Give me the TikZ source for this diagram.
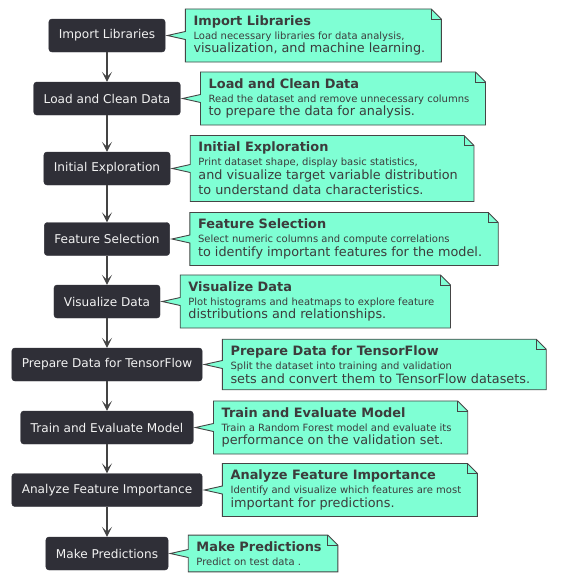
\documentclass[tikz,border=0pt]{standalone}
\usepackage{fontspec}
\setmainfont{DejaVu Sans}
\usepackage{xcolor}
\usepackage{tikz}
\usetikzlibrary{positioning,arrows.meta,backgrounds}

\definecolor{boxfill}{HTML}{2F2F37}
\definecolor{boxtext}{HTML}{F2F2F2}
\definecolor{notefill}{HTML}{7FFFD4}
\definecolor{noteborder}{HTML}{454545}
\definecolor{notetext}{HTML}{3C3C3C}
\definecolor{arrowgray}{HTML}{444444}

\newcommand\notetitle{\fontsize{12.9}{15}\bfseries\selectfont}
\newcommand\notesmall{\fontsize{10}{13.2}\mdseries\selectfont}
\newcommand\notelarge{\fontsize{12.8}{13.9}\mdseries\selectfont}
\def\boxx{107}
\def\notesep{20pt}

\begin{document}
\begin{tikzpicture}[x=1pt,y=-1pt,node distance=\notesep]
    \tikzstyle{activity}=[fill=boxfill,draw=boxfill,rounded corners=3pt,text=boxtext,
        minimum height=33pt,inner xsep=10pt,font=\fontsize{12.1}{14}\selectfont]
    \tikzstyle{note}=[align=left,text=notetext,inner xsep=8pt,inner ysep=6.2pt,font=\notelarge]
    \tikzstyle{noteline}=[fill=notefill,draw=noteborder,line width=0.9pt,line join=miter]
    \tikzstyle{flow}=[draw=arrowgray,line width=1.1pt,-{Stealth[length=10pt,width=10pt,inset=5pt]}]

    \useasboundingbox (0,0) rectangle (561,582);

    % Draw the activity boxes
    \foreach \name / \y / \txt in {1/35.5/Import Libraries,2/98.5/Load and Clean Data,
        3/168.5/Initial Exploration,4/239/Feature Selection,5/301.5/Visualize Data,
        6/364.5/Prepare Data for TensorFlow,7/427.5/Train and Evaluate Model,
        8/490/Analyze Feature Importance,9/553.5/Make Predictions}
        \node[activity] (A-\name) at (\boxx,\y) {\txt};

    % Connect each box with the next one
    \foreach \source / \dest in {1/2,2/3,3/4,4/5,5/6,6/7,7/8,8/9}
        \draw[flow] (A-\source.south) -- (A-\dest.north);

    % Notes to the right of the boxes
    \node[note,right=of A-1] (N-1) {\notetitle Import Libraries\\
        \notesmall Load necessary libraries for data analysis,\\
        \notelarge visualization, and machine learning.};
    \node[note,right=of A-2] (N-2) {\notetitle Load and Clean Data\\
        \notesmall Read the dataset and remove unnecessary columns\\
        \notelarge to prepare the data for analysis.};
    \node[note,right=of A-3] (N-3) {\notetitle Initial Exploration\\
        \notesmall Print dataset shape, display basic statistics,\\
        \notelarge and visualize target variable distribution\\[1.5pt]
        to understand data characteristics.};
    \node[note,right=of A-4] (N-4) {\notetitle Feature Selection\\
        \notesmall Select numeric columns and compute correlations\\
        \notelarge to identify important features for the model.};
    \node[note,right=of A-5] (N-5) {\notetitle Visualize Data\\
        \notesmall Plot histograms and heatmaps to explore feature\\
        \notelarge distributions and relationships.};
    \node[note,right=of A-6] (N-6) {\notetitle Prepare Data for TensorFlow\\
        \notesmall Split the dataset into training and validation\\
        \notelarge sets and convert them to TensorFlow datasets.};
    \node[note,right=of A-7] (N-7) {\notetitle Train and Evaluate Model\\
        \notesmall Train a Random Forest model and evaluate its\\
        \notelarge performance on the validation set.};
    \node[note,right=of A-8] (N-8) {\notetitle Analyze Feature Importance\\
        \notesmall Identify and visualize which features are most\\
        \notelarge important for predictions.};
    \node[note,right=of A-9] (N-9) {\notetitle Make Predictions\\
        \notesmall Predict on test data .};

    % Note outlines with folded corner and pointer
    \begin{pgfonlayer}{background}
    \foreach \i in {1,...,9} {
        \draw[noteline] (N-\i.north west) -- ([xshift=-2pt]N-\i.north east)
            -- ([xshift=8pt,yshift=-10pt]N-\i.north east) -- ([xshift=8pt]N-\i.south east)
            -- (N-\i.south west)
            -- ([yshift=-4pt]N-\i.west) -- ([xshift=2pt]A-\i.east)
            -- ([yshift=4pt]N-\i.west) -- cycle;
        \draw[noteline,fill=none] ([xshift=-2pt]N-\i.north east)
            -- ([xshift=-2pt,yshift=-10pt]N-\i.north east) -- ([xshift=8pt,yshift=-10pt]N-\i.north east);
    }
    \end{pgfonlayer}
\end{tikzpicture}
\end{document}
